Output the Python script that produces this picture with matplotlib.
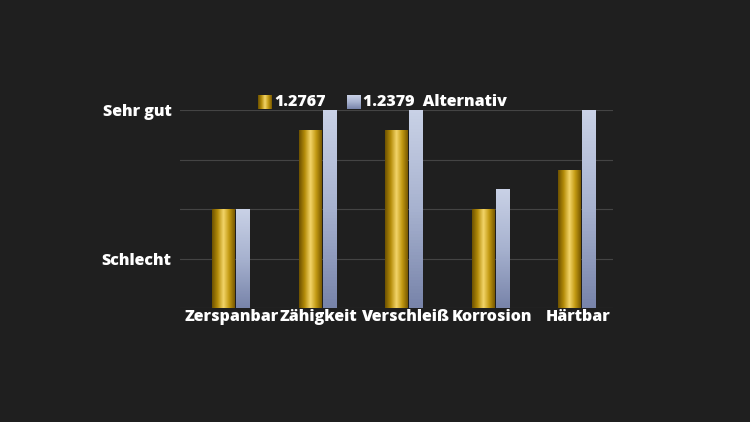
import numpy as np
import matplotlib.pyplot as plt
from matplotlib.colors import LinearSegmentedColormap

categories = ["Zerspanbar", "Zähigkeit", "Verschleiß", "Korrosion", "Härtbar"]
steel_a = [2, 3.6, 3.6, 2, 2.8]
steel_b = [2, 4, 4, 2.4, 4]
series_names = ["1.2767", "1.2379  Alternativ"]
ytick_labels = ["Schlecht", "Sehr gut"]

bg = "#1f1f1f"
gold = LinearSegmentedColormap.from_list("gold", ["#6e5200", "#b58d0a", "#f3d56a", "#c39a12", "#7a5a00"])
blue = LinearSegmentedColormap.from_list("blue", ["#7884aa", "#a7b2cf", "#c9d1e6"])
h_grad = np.linspace(0, 1, 64).reshape(1, -1)
v_grad = np.linspace(0, 1, 64).reshape(-1, 1)
font = dict(family="Open Sans", weight=800, size=11.5)

fig = plt.figure(figsize=(7.5, 4.22), dpi=100, facecolor=bg)
ax = fig.add_axes([0.24, 0.27, 0.577, 0.469], facecolor=bg)

x = np.arange(len(categories))
bars_a = ax.bar(x, steel_a, width=0.26, color="none")
bars_b = ax.bar(x + 0.23, steel_b, width=0.16, color="none")
for b in bars_a:
    x0, w, h = b.get_x(), b.get_width(), b.get_height()
    im = ax.imshow(h_grad, cmap=gold, aspect="auto", extent=[x0, x0 + w, 0, h], zorder=2)
    im.set_clip_path(b)
for b in bars_b:
    x0, w, h = b.get_x(), b.get_width(), b.get_height()
    im = ax.imshow(v_grad, cmap=blue, aspect="auto", origin="lower", extent=[x0, x0 + w, 0, h], zorder=2)
    im.set_clip_path(b)

ax.set_xlim(-0.5, len(categories) - 0.5)
ax.set_ylim(0, 4)
ax.set_yticks(range(5))
ax.set_yticklabels(["", ytick_labels[0], "", "", ytick_labels[1]])
ax.grid(axis="y", color="#444444", linewidth=0.8, zorder=0)
ax.set_axisbelow(True)
ax.set_xticks(x + 0.1)
ax.set_xticklabels(categories)
for lab in ax.get_xticklabels() + ax.get_yticklabels():
    lab.set_color("white")
    lab.set_fontproperties(font)
ax.tick_params(length=0, pad=1)
ax.tick_params(axis="y", pad=6)
for s in ax.spines.values():
    s.set_visible(False)

# legend
lax1 = fig.add_axes([258 / 750, 1 - 109 / 422, 14 / 750, 14 / 422])
lax1.imshow(h_grad, cmap=gold, aspect="auto")
lax2 = fig.add_axes([347 / 750, 1 - 109 / 422, 14 / 750, 14 / 422])
lax2.imshow(v_grad, cmap=blue, aspect="auto", origin="lower")
for a in (lax1, lax2):
    a.axis("off")
fig.text(274 / 750, 1 - 102 / 422, series_names[0], color="white", va="center", **font)
fig.text(363 / 750, 1 - 102 / 422, series_names[1], color="white", va="center", **font)

fig.savefig("out.png", dpi=100, facecolor=bg)
